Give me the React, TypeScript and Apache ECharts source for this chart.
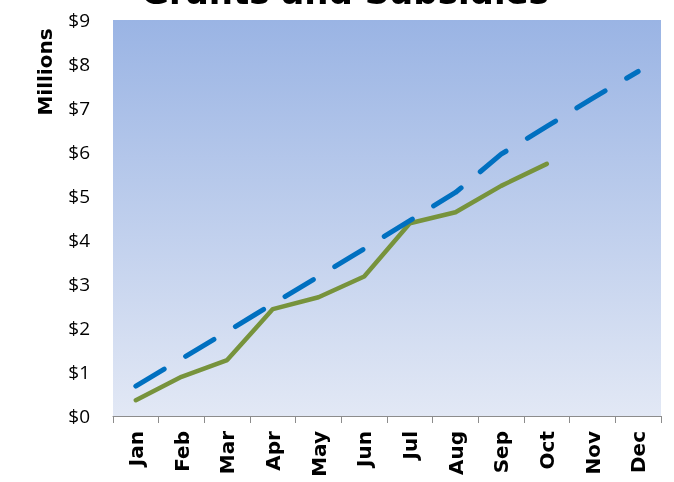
import React, { useEffect, useRef } from "react";
import * as echarts from "echarts";

const months = ["Jan", "Feb", "Mar", "Apr", "May", "Jun", "Jul", "Aug", "Sep", "Oct", "Nov", "Dec"];
const actual = [0.36, 0.89, 1.27, 2.43, 2.7, 3.17, 4.38, 4.63, 5.23, 5.73, null, null];
const budget = [0.68, 1.3, 1.92, 2.55, 3.17, 3.8, 4.44, 5.08, 5.95, 6.58, 7.22, 7.83];
const yMin = 0;
const yMax = 9;
const yStep = 1;
const title = "Grants and Subsidies";
const yTitle = "Millions";

export default function App() {
  const ref = useRef<HTMLDivElement>(null);
  useEffect(() => {
    if (!ref.current) return;
    const chart = echarts.init(ref.current, undefined, { renderer: "svg" });
    chart.setOption({
      animation: false,
      grid: {
        left: 113,
        right: 13,
        top: 20,
        bottom: 66,
        show: true,
        borderWidth: 0,
        backgroundColor: new echarts.graphic.LinearGradient(0, 0, 0, 1, [
          { offset: 0, color: "#9ab4e4" },
          { offset: 1, color: "#e2e8f5" },
        ]),
      },
      xAxis: {
        type: "category",
        data: months,
        boundaryGap: true,
        axisLine: { show: true, lineStyle: { color: "#8c8c8c", width: 1 } },
        axisTick: { show: true, length: 7, lineStyle: { color: "#8c8c8c" } },
        axisLabel: {
          interval: 0,
          rotate: 90,
          margin: 15,
          color: "#000",
          fontFamily: "DejaVu Sans",
          fontWeight: "bold",
          fontSize: 20,
        },
        splitLine: { show: false },
      },
      yAxis: {
        type: "value",
        min: yMin,
        max: yMax,
        interval: yStep,
        axisLine: { show: false },
        axisTick: { show: false },
        splitLine: { show: false },
        axisLabel: {
          margin: 23,
          color: "#000",
          fontFamily: "Open Sans",
          fontSize: 19,
          formatter: (v: number) => "$" + v,
        },
      },
      graphic: [
        {
          type: "text",
          x: 345,
          y: -8,
          style: {
            text: title,
            fontFamily: "DejaVu Sans",
            fontWeight: "bold",
            fontSize: 34,
            fill: "#000",
            align: "center",
            verticalAlign: "middle",
          },
        },
        {
          type: "text",
          x: 44.5,
          y: 72,
          rotation: Math.PI / 2,
          style: {
            text: yTitle,
            fontFamily: "DejaVu Sans",
            fontWeight: "bold",
            fontSize: 20,
            fill: "#000",
            align: "center",
            verticalAlign: "middle",
          },
        },
      ],
      series: [
        {
          name: "Actual",
          type: "line",
          data: actual,
          showSymbol: false,
          symbol: "none",
          connectNulls: false,
          lineStyle: { color: "#77933c", width: 4.5, cap: "round", join: "round" },
          itemStyle: { color: "#77933c" },
          z: 2,
        },
        {
          name: "Budget",
          type: "line",
          data: budget,
          showSymbol: false,
          symbol: "none",
          lineStyle: { color: "#0070c0", width: 5, type: [33, 25], cap: "round", join: "round" },
          itemStyle: { color: "#0070c0" },
          z: 3,
        },
      ],
    });
    return () => chart.dispose();
  }, []);
  return (
    <div
      ref={ref}
      style={{ position: "fixed", left: 0, top: 0, width: 674, height: 482 }}
    />
  );
}
